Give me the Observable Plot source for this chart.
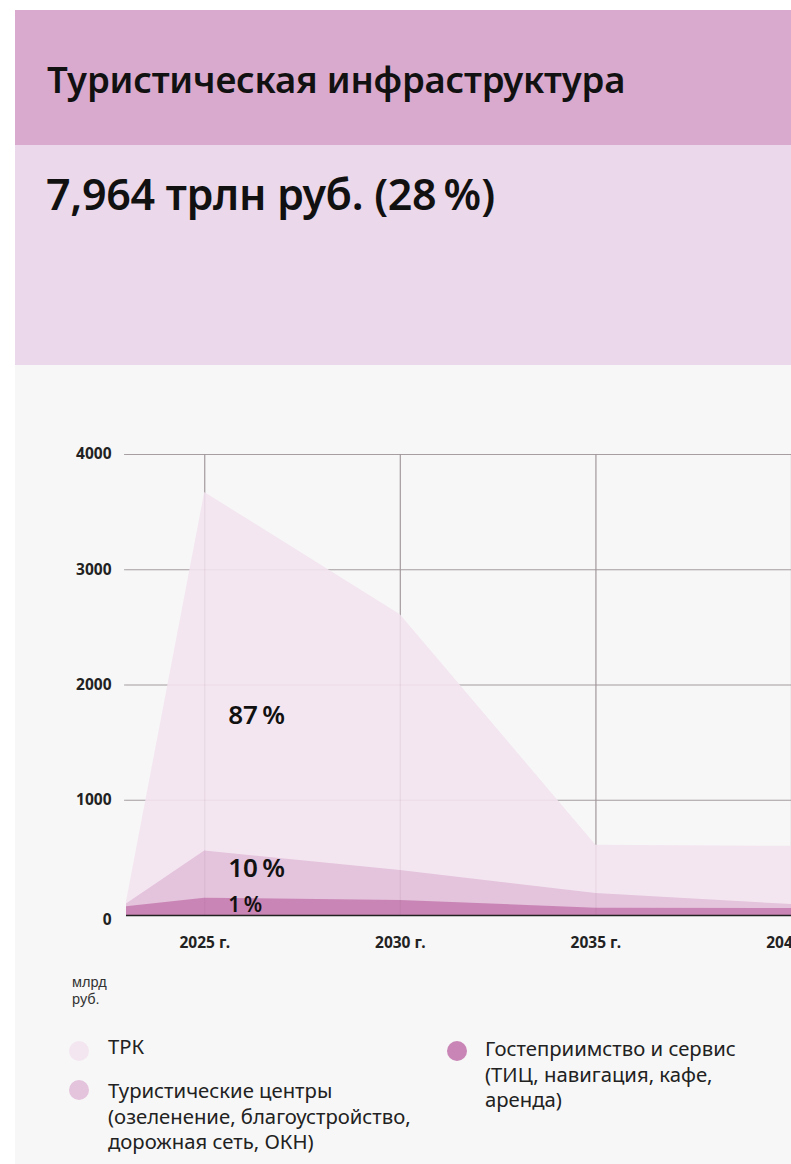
<!DOCTYPE html>
<html>
<head>
<meta charset="utf-8">
<script src="https://cdn.jsdelivr.net/npm/d3@7"></script>
<script src="https://cdn.jsdelivr.net/npm/@observablehq/plot@0.6"></script>
<style>
  html, body { margin: 0; padding: 0; background: #ffffff; width: 791px; height: 1164px; overflow: hidden; font-family: "Noto Sans", sans-serif; }
  #page { position: relative; width: 791px; height: 1164px; }
  .panel { position: absolute; left: 15px; width: 800px; }
  #head { top: 10px; height: 135px; background: #d9aacd; }
  #sub { top: 145px; height: 220px; background: #ebd8ea; }
  #body { top: 365px; height: 820px; background: #f7f7f7; }
  #title { position: absolute; left: 47px; top: 54px; font-size: 36.5px; font-weight: 600; color: #111; white-space: nowrap; letter-spacing: -0.2px; }
  #total { position: absolute; left: 46px; top: 164px; font-size: 43px; font-weight: 600; color: #111; white-space: nowrap; letter-spacing: -0.3px; }
  #chart { position: absolute; left: 0; top: 430px; }
  .unit { position: absolute; left: 72px; font-family: "Liberation Sans", Arial, sans-serif; font-size: 14.5px; line-height: 17px; height: 17px; color: #333; }
  .leg { position: absolute; font-size: 20.3px; line-height: 25.7px; color: #222; white-space: nowrap; }
  .dot { position: absolute; width: 20px; height: 20px; border-radius: 50%; }
</style>
</head>
<body>
<div id="page">
  <div class="panel" id="head"></div>
  <div class="panel" id="sub"></div>
  <div class="panel" id="body"></div>
  <div id="title"></div>
  <div id="total"></div>
  <div id="chart"></div>
  <div class="unit" style="top:974px">млрд</div>
  <div class="unit" style="top:991px">руб.</div>
  <div id="legend"></div>
</div>
<script>
// ---- data ----
const titleText = "Туристическая инфраструктура";
const totalText = "7,964 трлн руб. (28\u202F%)";
const years = [2023, 2025, 2030, 2035, 2040];
const trk = [120, 3670, 2610, 610, 600];          // ТРК (top of area)
const centers = [100, 560, 390, 190, 95];          // Туристические центры
const hospitality = [75, 150, 130, 63, 60];        // Гостеприимство и сервис
const yTicks = [0, 1000, 2000, 3000, 4000];
const xTicks = [2025, 2030, 2035, 2040];
const xTickLabels = ["2025 г.", "2030 г.", "2035 г.", "2040 г."];
const seriesNames = ["ТРК", "Туристические центры\n(озеленение, благоустройство,\nдорожная сеть, ОКН)", "Гостеприимство и сервис\n(ТИЦ, навигация, кафе,\nаренда)"];
const seriesColors = ["#f3e6f0", "#e4c3dc", "#c985b5"];
const shareLabels = ["87\u202F%", "10\u202F%", "1\u202F%"];
const shareX = [2025.6, 2025.6, 2025.6];
const shareY = [1730, 410, 90];
const shareSize = [26, 26, 21];

document.getElementById("title").textContent = titleText;
document.getElementById("total").textContent = totalText;

const rows = (vals) => years.map((yr, i) => ({year: yr, value: vals[i]}));
const series = [trk, centers, hospitality].map(rows);
const shares = shareLabels.map((t, i) => ({text: t, x: shareX[i], y: shareY[i], size: shareSize[i]}));
const axisStyle = {tickSize: 0, fontSize: 15.5, fontWeight: 700, fill: "#222", label: null};

const chart = Plot.plot({
  width: 791,
  height: 540,
  marginLeft: 126,
  marginRight: 0,
  marginTop: 24,
  marginBottom: 55,
  style: {background: "transparent", fontFamily: "'Noto Sans', sans-serif"},
  x: {domain: [2023, 2040], axis: null},
  y: {domain: [0, 4000], axis: null},
  marks: [
    Plot.ruleY(yTicks.filter(d => d > 0), {x1: 2022.95, x2: 2040, stroke: "#a9a4a4", strokeWidth: 1.2}),
    Plot.ruleX(xTicks, {y1: 0, y2: 4000, stroke: "#a9a4a4", strokeWidth: 1.2}),
    ...series.map((s, i) => Plot.areaY(s, {x: "year", y: "value", fill: seriesColors[i]})),
    Plot.ruleY(yTicks.filter(d => d > 0), {stroke: "#8a5a80", strokeOpacity: 0.07, strokeWidth: 1.2}),
    Plot.ruleX(xTicks, {y1: 0, y2: 4000, stroke: "#8a5a80", strokeOpacity: 0.1, strokeWidth: 1.2}),
    Plot.ruleY([0], {stroke: "#222", strokeWidth: 1.5}),
    Plot.text(shares, {x: "x", y: "y", text: "text", textAnchor: "start", fontSize: "size", fontWeight: 600, fill: "#111"}),
    Plot.axisY(yTicks.filter(d => d > 0), {...axisStyle, tickPadding: 15, tickFormat: (d) => String(d)}),
    Plot.axisY([0], {...axisStyle, tickPadding: 15, dy: 5, tickFormat: (d) => String(d)}),
    Plot.axisX(xTicks, {...axisStyle, tickPadding: 21, tickFormat: (d) => xTickLabels[xTicks.indexOf(d)]})
  ]
});
document.getElementById("chart").appendChild(chart);

// legend
const legendPos = [
  {dotX: 69, dotY: 1041, textX: 108, textY: 1034},
  {dotX: 69, dotY: 1080, textX: 108, textY: 1078},
  {dotX: 447, dotY: 1041, textX: 485, textY: 1036}
];
const legend = document.getElementById("legend");
seriesNames.forEach((name, i) => {
  const p = legendPos[i];
  const dot = document.createElement("div");
  dot.className = "dot";
  dot.style.left = p.dotX + "px";
  dot.style.top = p.dotY + "px";
  dot.style.background = seriesColors[i];
  legend.appendChild(dot);
  const t = document.createElement("div");
  t.className = "leg";
  t.style.left = p.textX + "px";
  t.style.top = p.textY + "px";
  t.innerHTML = name.split("\n").join("<br>");
  legend.appendChild(t);
});
</script>
</body>
</html>
